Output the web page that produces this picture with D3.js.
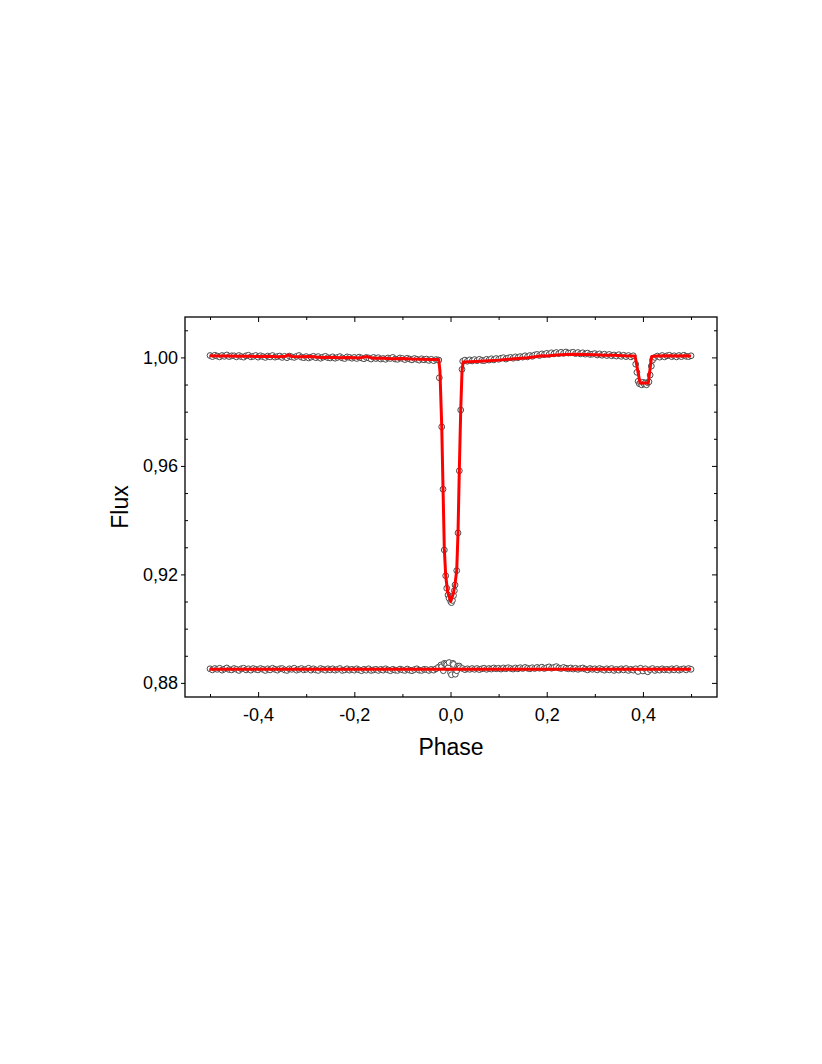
<!DOCTYPE html>
<html>
<head>
<meta charset="utf-8">
<script src="https://cdn.jsdelivr.net/npm/d3@7"></script>
<style>
  html, body { margin: 0; padding: 0; background: #fff; }
  svg { display: block; }
  text { font-family: "Liberation Sans", Arial, sans-serif; fill: #000; }
</style>
</head>
<body>
<svg id="chart" width="822" height="1064"></svg>
<script>
// ---------------- DATA ----------------
// regular phase grid (used for out-of-eclipse light curve and residuals)
const phaseGrid = [
-0.500,-0.495,-0.490,-0.485,-0.480,-0.475,-0.470,-0.465,-0.460,-0.455,
-0.450,-0.445,-0.440,-0.435,-0.430,-0.425,-0.420,-0.415,-0.410,-0.405,
-0.400,-0.395,-0.390,-0.385,-0.380,-0.375,-0.370,-0.365,-0.360,-0.355,
-0.350,-0.345,-0.340,-0.335,-0.330,-0.325,-0.320,-0.315,-0.310,-0.305,
-0.300,-0.295,-0.290,-0.285,-0.280,-0.275,-0.270,-0.265,-0.260,-0.255,
-0.250,-0.245,-0.240,-0.235,-0.230,-0.225,-0.220,-0.215,-0.210,-0.205,
-0.200,-0.195,-0.190,-0.185,-0.180,-0.175,-0.170,-0.165,-0.160,-0.155,
-0.150,-0.145,-0.140,-0.135,-0.130,-0.125,-0.120,-0.115,-0.110,-0.105,
-0.100,-0.095,-0.090,-0.085,-0.080,-0.075,-0.070,-0.065,-0.060,-0.055,
-0.050,-0.045,-0.040,-0.035,-0.030,-0.025,-0.020,-0.015,-0.010,-0.005,
 0.000, 0.005, 0.010, 0.015, 0.020, 0.025, 0.030, 0.035, 0.040, 0.045,
 0.050, 0.055, 0.060, 0.065, 0.070, 0.075, 0.080, 0.085, 0.090, 0.095,
 0.100, 0.105, 0.110, 0.115, 0.120, 0.125, 0.130, 0.135, 0.140, 0.145,
 0.150, 0.155, 0.160, 0.165, 0.170, 0.175, 0.180, 0.185, 0.190, 0.195,
 0.200, 0.205, 0.210, 0.215, 0.220, 0.225, 0.230, 0.235, 0.240, 0.245,
 0.250, 0.255, 0.260, 0.265, 0.270, 0.275, 0.280, 0.285, 0.290, 0.295,
 0.300, 0.305, 0.310, 0.315, 0.320, 0.325, 0.330, 0.335, 0.340, 0.345,
 0.350, 0.355, 0.360, 0.365, 0.370, 0.375, 0.380, 0.385, 0.390, 0.395,
 0.400, 0.405, 0.410, 0.415, 0.420, 0.425, 0.430, 0.435, 0.440, 0.445,
 0.450, 0.455, 0.460, 0.465, 0.470, 0.475, 0.480, 0.485, 0.490, 0.495,
 0.500
];

// observed flux on the grid (null = inside an eclipse, given separately)
const obsFlux = [
1.0007,1.0003,1.0008,1.0005,1.0002,1.0007,1.0004,1.0009,1.0003,1.0006,
1.0006,1.0002,1.0007,1.0003,1.0001,1.0006,1.0008,1.0002,1.0004,1.0007,
1.0001,1.0006,1.0003,1.0000,1.0005,1.0002,1.0007,1.0001,1.0003,1.0005,
1.0000,1.0004,0.9999,1.0005,1.0002,1.0000,1.0004,1.0007,1.0001,0.9999,
1.0003,0.9998,1.0001,1.0004,0.9999,1.0003,0.9997,1.0001,1.0004,0.9999,
0.9998,1.0002,0.9997,1.0000,1.0003,0.9998,0.9996,1.0002,1.0000,0.9997,
1.0000,0.9996,1.0001,0.9998,0.9995,1.0000,0.9998,0.9994,1.0000,0.9996,
0.9999,0.9994,0.9996,0.9993,0.9998,0.9996,1.0000,0.9994,0.9993,0.9998,
0.9996,0.9992,0.9997,0.9994,0.9991,0.9996,0.9993,0.9990,0.9995,0.9991,
0.9994,0.9989,0.9993,0.9988,0.9992,0.9990,null,null,null,null,
null,null,null,null,null,null,0.9990,0.9986,0.9991,0.9987,
0.9992,0.9988,0.9993,0.9989,0.9988,0.9993,0.9990,0.9995,0.9991,0.9996,
0.9993,0.9997,0.9999,0.9994,0.9998,1.0000,0.9997,1.0002,0.9999,1.0003,
1.0001,1.0006,1.0002,1.0007,1.0004,1.0009,1.0011,1.0007,1.0013,1.0010,
1.0015,1.0011,1.0017,1.0013,1.0018,1.0014,1.0019,1.0015,1.0020,1.0016,
1.0017,1.0019,1.0014,1.0018,1.0013,1.0017,1.0012,1.0016,1.0011,1.0012,
1.0014,1.0009,1.0013,1.0008,1.0012,1.0007,1.0011,1.0006,1.0009,1.0005,
1.0010,1.0004,1.0008,1.0003,1.0007,1.0002,1.0006,null,null,null,
null,null,null,null,null,1.0000,1.0005,1.0001,1.0007,1.0002,
1.0006,1.0008,1.0003,1.0006,1.0002,1.0007,1.0003,1.0008,1.0004,1.0003,
1.0006
];

// observed points inside the primary eclipse
const primPhase = [-0.0245,-0.0233,-0.0183,-0.0156,-0.0129,-0.0100,-0.0079,-0.0052,-0.0030,0.0004,0.0020,0.0040,0.0062,0.0080,0.0094,0.0129,0.0156,0.0183,0.0212,0.0239,0.0254];
const primFlux  = [ 0.9990, 0.9925, 0.9744, 0.9514, 0.9290, 0.9195, 0.9149, 0.9124, 0.9112,0.9100,0.9096,0.9104,0.9122,0.9140,0.9161,0.9214,0.9353,0.9582,0.9806,0.9956,0.9986];

// observed points inside the secondary eclipse
const secPhase = [0.3850,0.3875,0.3900,0.3925,0.3950,0.3975,0.4000,0.4025,0.4050,0.4075,0.4100,0.4125,0.4150,0.4175,0.4200];
const secFlux  = [0.9975,0.9945,0.9912,0.9903,0.9907,0.9899,0.9908,0.9902,0.9906,0.9899,0.9907,0.9910,0.9935,0.9968,0.9990];

// model light curve (red)
const modelPhase = [
-0.500,-0.480,-0.460,-0.440,-0.420,-0.400,-0.380,-0.360,-0.345,-0.337,-0.330,-0.310,-0.290,-0.270,-0.250,-0.230,-0.210,-0.190,-0.175,-0.160,-0.140,-0.120,-0.100,-0.080,-0.060,-0.040,-0.0245,
-0.0220,-0.0183,-0.0156,-0.0129,-0.0100,-0.0060,0.0004,0.0060,0.0094,0.0129,0.0156,0.0183,0.0212,0.0239,0.0262,
0.040,0.060,0.080,0.100,0.120,0.140,0.160,0.180,0.190,0.200,0.220,0.240,0.260,0.280,0.300,0.320,0.340,0.360,0.3836,
0.3940,0.4112,0.4180,0.430,0.450,0.470,0.490,0.500
];
const modelFlux = [
1.0006,1.0005,1.0005,1.0004,1.0004,1.0003,1.0004,1.0002,1.0003,1.0009,1.0003,1.0002,1.0003,1.0000,1.0001,0.9999,1.0000,0.9998,1.0003,0.9997,0.9997,0.9995,0.9996,0.9994,0.9993,0.9992,0.9992,
0.9950,0.9750,0.9518,0.9295,0.9195,0.9135,0.9100,0.9130,0.9165,0.9215,0.9355,0.9585,0.9805,0.9950,0.9983,
0.9984,0.9986,0.9988,0.9990,0.9993,0.9996,0.9999,1.0003,1.0006,1.0005,1.0009,1.0011,1.0012,1.0011,1.0010,1.0008,1.0008,1.0006,1.0005,
0.9906,0.9906,1.0003,1.0005,1.0006,1.0005,1.0006,1.0005
];

// residuals (O-C, shifted to 0.885) on the phase grid
const residFlux = [
0.8852,0.8848,0.8853,0.8850,0.8854,0.8847,0.8851,0.8855,0.8849,0.8848,
0.8853,0.8850,0.8846,0.8852,0.8854,0.8848,0.8852,0.8847,0.8853,0.8850,
0.8848,0.8853,0.8850,0.8846,0.8852,0.8848,0.8854,0.8850,0.8847,0.8852,
0.8853,0.8848,0.8846,0.8852,0.8850,0.8854,0.8847,0.8850,0.8853,0.8848,
0.8850,0.8854,0.8847,0.8852,0.8848,0.8846,0.8853,0.8850,0.8847,0.8852,
0.8848,0.8852,0.8847,0.8850,0.8853,0.8846,0.8848,0.8852,0.8847,0.8850,
0.8847,0.8852,0.8848,0.8845,0.8850,0.8847,0.8852,0.8846,0.8848,0.8850,
0.8846,0.8850,0.8847,0.8852,0.8848,0.8845,0.8850,0.8847,0.8846,0.8851,
0.8848,0.8846,0.8851,0.8847,0.8845,0.8849,0.8852,0.8847,0.8846,0.8850,
0.8849,0.8846,0.8850,0.8847,0.8852,0.8858,0.8866,0.8845,0.8870,0.8856,
0.8838,0.8872,0.8832,0.8862,0.8856,0.8853,0.8849,0.8852,0.8850,0.8853,
0.8850,0.8853,0.8849,0.8852,0.8854,0.8850,0.8853,0.8851,0.8855,0.8852,
0.8854,0.8851,0.8855,0.8852,0.8856,0.8853,0.8851,0.8855,0.8852,0.8856,
0.8853,0.8857,0.8854,0.8852,0.8856,0.8853,0.8857,0.8854,0.8858,0.8853,
0.8856,0.8859,0.8854,0.8857,0.8860,0.8855,0.8853,0.8857,0.8854,0.8852,
0.8855,0.8851,0.8854,0.8850,0.8853,0.8855,0.8851,0.8848,0.8853,0.8850,
0.8852,0.8848,0.8853,0.8850,0.8847,0.8852,0.8848,0.8853,0.8846,0.8850,
0.8847,0.8852,0.8848,0.8853,0.8846,0.8850,0.8847,0.8852,0.8842,0.8854,
0.8844,0.8852,0.8841,0.8849,0.8853,0.8846,0.8850,0.8847,0.8852,0.8848,
0.8850,0.8847,0.8852,0.8848,0.8853,0.8847,0.8850,0.8852,0.8848,0.8853,
0.8850
];
// extra residual points inside the primary eclipse
const residEclPhase = [-0.0183,-0.0129,-0.0079,-0.0030,0.0020,0.0062,0.0129,0.0183];
const residEclFlux  = [ 0.8860, 0.8872, 0.8866, 0.8875, 0.8830, 0.8868, 0.8845, 0.8862];

// residual model line
const residModelPhase = [-0.500, 0.500];
const residModelFlux  = [0.8850, 0.8850];

// axes
const xDomain = [-0.552, 0.554];
const yDomain = [0.8748, 1.0149];
const xMajorTicks = [-0.4, -0.2, 0.0, 0.2, 0.4];
const xMinorTicks = [-0.5, -0.3, -0.1, 0.1, 0.3, 0.5];
const yMajorTicks = [0.88, 0.92, 0.96, 1.00];
const yMinorTicks = [0.89, 0.90, 0.91, 0.93, 0.94, 0.95, 0.97, 0.98, 0.99, 1.01];
const xLabel = "Phase";
const yLabel = "Flux";

// ---------------- DRAW ----------------
const svg = d3.select("#chart");
const L = 185, R = 717, T = 317, B = 697;
const x = d3.scaleLinear().domain(xDomain).range([L, R]);
const y = d3.scaleLinear().domain(yDomain).range([B, T]);
const fmt = (n, d) => n.toFixed(d).replace(".", ",");

// points
const obsPts = phaseGrid.map((p, i) => [p, obsFlux[i]]).filter(d => d[1] !== null)
  .concat(primPhase.map((p, i) => [p, primFlux[i]]))
  .concat(secPhase.map((p, i) => [p, secFlux[i]]))
  .sort((a, b) => a[0] - b[0]);
const resPts = phaseGrid.map((p, i) => [p, residFlux[i]])
  .concat(residEclPhase.map((p, i) => [p, residEclFlux[i]]))
  .sort((a, b) => a[0] - b[0]);

const ptsG = svg.append("g");
ptsG.selectAll("circle.o").data(obsPts.concat(resPts)).join("circle")
  .attr("cx", d => x(d[0])).attr("cy", d => y(d[1])).attr("r", 2.9)
  .attr("fill", "#fff").attr("stroke", "#4a4a4a").attr("stroke-width", 1);

// model lines
const line = d3.line().x(d => x(d[0])).y(d => y(d[1]));
svg.append("path").datum(modelPhase.map((p, i) => [p, modelFlux[i]]))
  .attr("d", line).attr("fill", "none").attr("stroke", "#ff0000")
  .attr("stroke-width", 3).attr("stroke-linejoin", "round");
svg.append("path").datum(residModelPhase.map((p, i) => [p, residModelFlux[i]]))
  .attr("d", line).attr("fill", "none").attr("stroke", "#ff0000")
  .attr("stroke-width", 3);

// axes
function styleAxis(g) {
  g.select(".domain").remove();
  g.selectAll(".tick line").attr("stroke", "#000").attr("stroke-width", 1);
  g.selectAll(".tick text").attr("font-size", 18).attr("fill", "#000")
    .attr("font-family", "'Liberation Sans', Arial, sans-serif");
}
svg.append("g").attr("transform", `translate(0,${B})`)
  .call(d3.axisBottom(x).tickValues(xMajorTicks).tickSize(-5).tickPadding(11).tickFormat(d => fmt(d, 1)))
  .call(styleAxis);
svg.append("g").attr("transform", `translate(0,${B})`)
  .call(d3.axisBottom(x).tickValues(xMinorTicks).tickSize(-3).tickFormat(""))
  .call(styleAxis);
svg.append("g").attr("transform", `translate(0,${T})`)
  .call(d3.axisTop(x).tickValues(xMajorTicks).tickSize(-5).tickFormat(""))
  .call(styleAxis);
svg.append("g").attr("transform", `translate(0,${T})`)
  .call(d3.axisTop(x).tickValues(xMinorTicks).tickSize(-3).tickFormat(""))
  .call(styleAxis);
svg.append("g").attr("transform", `translate(${L},0)`)
  .call(d3.axisLeft(y).tickValues(yMajorTicks).tickSize(4).tickPadding(3).tickFormat(d => fmt(d, 2)))
  .call(styleAxis);
svg.append("g").attr("transform", `translate(${L},0)`)
  .call(d3.axisLeft(y).tickValues(yMinorTicks).tickSize(-3).tickFormat(""))
  .call(styleAxis);
svg.append("g").attr("transform", `translate(${R},0)`)
  .call(d3.axisRight(y).tickValues(yMajorTicks).tickSize(-5).tickFormat(""))
  .call(styleAxis);
svg.append("g").attr("transform", `translate(${R},0)`)
  .call(d3.axisRight(y).tickValues(yMinorTicks).tickSize(-3).tickFormat(""))
  .call(styleAxis);

// frame
svg.append("rect").attr("x", L).attr("y", T).attr("width", R - L).attr("height", B - T)
  .attr("fill", "none").attr("stroke", "#000").attr("stroke-width", 1.3);

// axis titles
svg.append("text").attr("x", (L + R) / 2).attr("y", 755).attr("text-anchor", "middle")
  .attr("font-size", 23).text(xLabel);
svg.append("text").attr("transform", `translate(128,${(T + B) / 2}) rotate(-90)`)
  .attr("text-anchor", "middle").attr("font-size", 23).text(yLabel);
</script>
</body>
</html>
